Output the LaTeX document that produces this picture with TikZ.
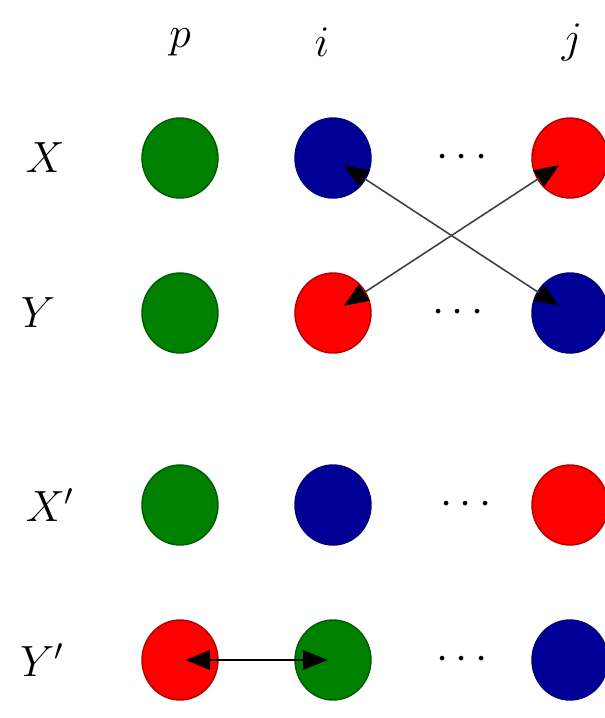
\documentclass[tikz,border=0pt]{standalone}
\usetikzlibrary{shapes.geometric,arrows.meta}
\definecolor{dgreen}{RGB}{0,128,0}
\definecolor{dblue}{RGB}{0,0,150}
\definecolor{dred}{RGB}{255,0,0}
\begin{document}
\begin{tikzpicture}[x=0.02cm,y=-0.02cm,
  ball/.style={ellipse,minimum width=1.52cm,minimum height=1.6cm,inner sep=0pt,line width=0.8pt},
  gball/.style={ball,fill=dgreen,draw=dgreen!70!black},
  bball/.style={ball,fill=dblue,draw=dblue!80!black},
  rball/.style={ball,fill=dred,draw=dred!70!black},
  lab/.style={font=\fontsize{26}{30}\selectfont},
  dotsnode/.style={font=\fontsize{26}{30}\selectfont},
  tip/.style={Triangle[length=14pt,width=11pt,fill=black,color=black]},
  link/.style={draw=black!75,line width=0.9pt,{Triangle[length=14pt,width=11pt,color=black,fill=black]}-{Triangle[length=14pt,width=11pt,color=black,fill=black]},shorten <=-15pt,shorten >=-15pt}
]
\useasboundingbox (0,0) rectangle (605,718);
% column headers
\node[lab] (hp) at (180,42) {$p$};
\node[lab] (hi) at (322,42) {$i$};
\node[lab] (hj) at (572,42) {$j$};
% row labels
\node[lab] (lx) at (45,158) {$X$};
\node[lab] (ly) at (38,313) {$Y$};
\node[lab] (lx2) at (50,505) {$X'$};
\node[lab] (ly2) at (42,660) {$Y'$};
% row X
\node[gball] (xp) at (180,158) {};
\node[bball] (xi) at (333,158) {};
\node[dotsnode] (xd) at (462,158) {$\cdots$};
\node[rball] (xj) at (570,158) {};
% row Y
\node[gball] (yp) at (180,313) {};
\node[rball] (yi) at (333,313) {};
\node[dotsnode] (yd) at (458,313) {$\cdots$};
\node[bball] (yj) at (570,313) {};
% row X'
\node[gball] (x2p) at (180,505) {};
\node[bball] (x2i) at (333,505) {};
\node[dotsnode] (x2d) at (466,505) {$\cdots$};
\node[rball] (x2j) at (570,505) {};
% row Y'
\node[rball] (y2p) at (180,660) {};
\node[gball] (y2i) at (333,660) {};
\node[dotsnode] (y2d) at (462,660) {$\cdots$};
\node[bball] (y2j) at (570,660) {};
% connectors
\draw[link] (xi) -- (yj);
\draw[link] (xj) -- (yi);
\draw[link,draw=black,line width=1.2pt,shorten <=-19pt,shorten >=-19pt] (y2p) -- (y2i);
\end{tikzpicture}
\end{document}
